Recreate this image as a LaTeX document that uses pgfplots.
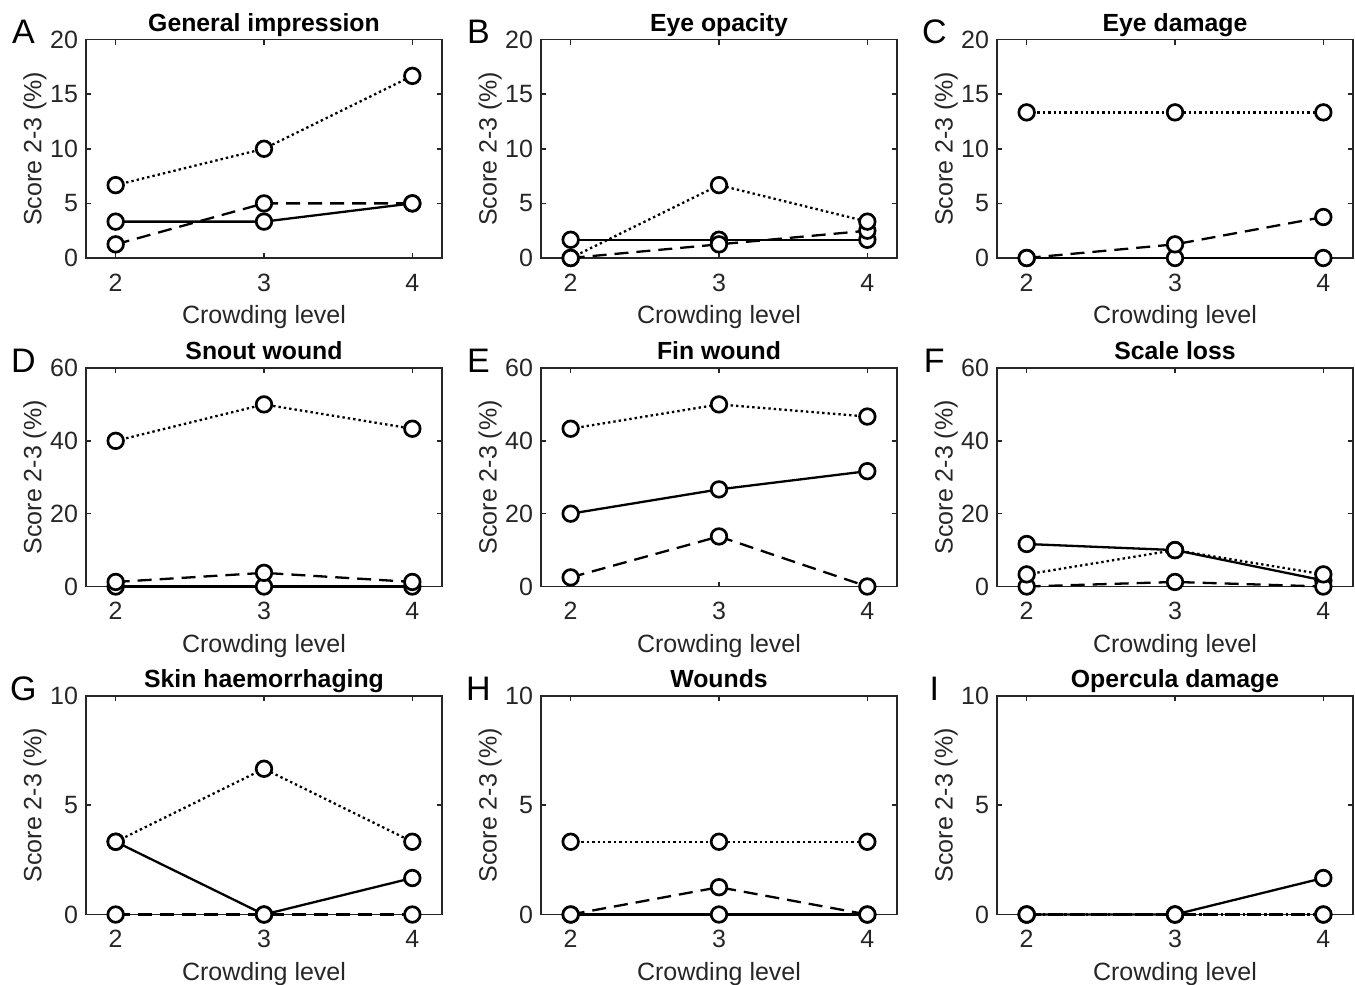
\documentclass[border=0pt]{standalone}
\usepackage{fontspec}
\setmainfont{Liberation Sans}
\usepackage{pgfplots}
\pgfplotsset{compat=1.18}
\definecolor{axc}{gray}{0.15}
\pgfplotsset{
 panel/.style={
  scale only axis, width=178pt, height=109.25pt, anchor=north west,
  xmin=1.8, xmax=4.2, xtick={2,3,4}, ymin=0,
  tick align=inside, major tick length=2.5pt,
  xtick pos=both, ytick pos=both, xticklabel pos=bottom, yticklabel pos=left,
  axis line style={axc, line width=0.8pt},
  every tick/.style={axc, line width=0.8pt},
  tick label style={font=\fontsize{12.5}{14}\selectfont, text=axc},
  /pgf/number format/assume math mode=true,
  xticklabel style={anchor=base, yshift=-16.5pt},
  yticklabel style={anchor=east, xshift=-0.5pt},
  xlabel={Crowding level}, ylabel={Score 2-3 (\%)},
  label style={font=\fontsize{12.5}{14}\selectfont, text=axc},
  xlabel style={at={(axis description cs:0.5,-0.3)}, anchor=base},
  ylabel style={at={(axis description cs:-0.125,0.5)}, anchor=base},
  every axis title shift=0pt,
  title style={at={(axis description cs:0.5,1.037)}, anchor=base, yshift=0pt, font=\bfseries\fontsize{12.4}{14}\selectfont},
  clip=false,
 },
 r1/.style={ymax=20, ytick={0,5,10,15,20}},
 r2/.style={ymax=60, ytick={0,20,40,60}},
 r3/.style={ymax=10, ytick={0,5,10}},
 sol/.style={black, line width=1.15pt, mark=*, mark size=3.9pt, mark options={solid, fill=white, draw=black, line width=1.35pt}},
 das/.style={sol, dash pattern=on 7pt off 4pt},
 dot/.style={sol, dash pattern=on 1.2pt off 1.5pt},
}
\newcommand{\plet}[1]{\node[font=\fontsize{17}{19}\selectfont] at (axis description cs:-0.176,1.035) {#1};}
\begin{document}
\begin{tikzpicture}
\useasboundingbox (0,0) rectangle (677.5pt,-492.5pt);
% Row 1
\begin{axis}[panel, r1, at={(43pt,-19.75pt)}, title={General impression}]
\addplot[sol] coordinates {(2,3.33) (3,3.33) (4,5)};
\addplot[das] coordinates {(2,1.25) (3,5) (4,5)};
\addplot[dot] coordinates {(2,6.67) (3,10) (4,16.67)};
\plet{A}
\end{axis}
\begin{axis}[panel, r1, at={(270.5pt,-19.75pt)}, title={Eye opacity}]
\addplot[sol] coordinates {(2,1.67) (3,1.67) (4,1.67)};
\addplot[das] coordinates {(2,0) (3,1.25) (4,2.5)};
\addplot[dot] coordinates {(2,0) (3,6.67) (4,3.33)};
\plet{B}
\end{axis}
\begin{axis}[panel, r1, at={(498.5pt,-19.75pt)}, title={Eye damage}]
\addplot[sol] coordinates {(2,0) (3,0) (4,0)};
\addplot[das] coordinates {(2,0) (3,1.25) (4,3.75)};
\addplot[dot] coordinates {(2,13.33) (3,13.33) (4,13.33)};
\plet{C}
\end{axis}
% Row 2
\begin{axis}[panel, r2, at={(43pt,-184pt)}, title={Snout wound}]
\addplot[sol] coordinates {(2,0) (3,0) (4,0)};
\addplot[das] coordinates {(2,1.25) (3,3.75) (4,1.25)};
\addplot[dot] coordinates {(2,40) (3,50) (4,43.33)};
\plet{D}
\end{axis}
\begin{axis}[panel, r2, at={(270.5pt,-184pt)}, title={Fin wound}]
\addplot[sol] coordinates {(2,20) (3,26.67) (4,31.67)};
\addplot[das] coordinates {(2,2.5) (3,13.75) (4,0)};
\addplot[dot] coordinates {(2,43.33) (3,50) (4,46.67)};
\plet{E}
\end{axis}
\begin{axis}[panel, r2, at={(498.5pt,-184pt)}, title={Scale loss}]
\addplot[sol] coordinates {(2,11.67) (3,10) (4,1.67)};
\addplot[das] coordinates {(2,0) (3,1.25) (4,0)};
\addplot[dot] coordinates {(2,3.33) (3,10) (4,3.33)};
\plet{F}
\end{axis}
% Row 3
\begin{axis}[panel, r3, at={(43pt,-348pt)}, title={Skin haemorrhaging}]
\addplot[sol] coordinates {(2,3.33) (3,0) (4,1.67)};
\addplot[das] coordinates {(2,0) (3,0) (4,0)};
\addplot[dot] coordinates {(2,3.33) (3,6.67) (4,3.33)};
\plet{G}
\end{axis}
\begin{axis}[panel, r3, at={(270.5pt,-348pt)}, title={Wounds}]
\addplot[sol] coordinates {(2,0) (3,0) (4,0)};
\addplot[das] coordinates {(2,0) (3,1.25) (4,0)};
\addplot[dot] coordinates {(2,3.33) (3,3.33) (4,3.33)};
\plet{H}
\end{axis}
\begin{axis}[panel, r3, at={(498.5pt,-348pt)}, title={Opercula damage}]
\addplot[dot] coordinates {(2,0) (3,0) (4,0)};
\addplot[das] coordinates {(2,0) (3,0) (4,0)};
\addplot[sol] coordinates {(2,0) (3,0) (4,1.67)};
\plet{I}
\end{axis}
\end{tikzpicture}
\end{document}
